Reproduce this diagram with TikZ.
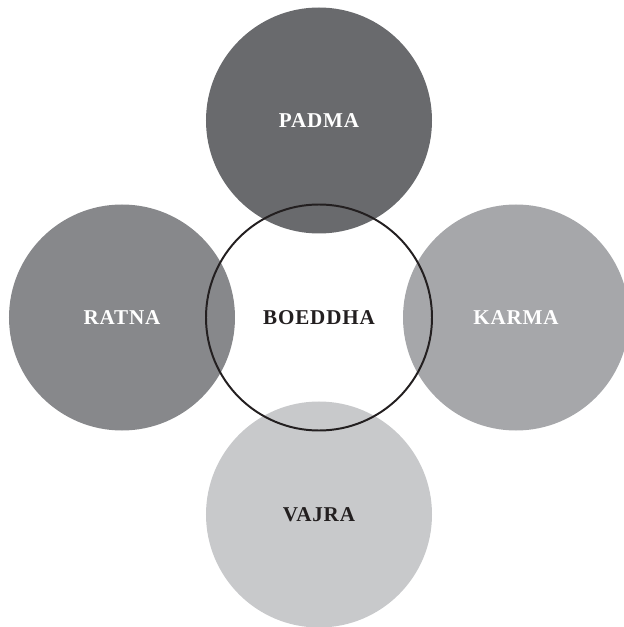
\documentclass[tikz,border=0pt]{standalone}
\usepackage{fontspec}
\setmainfont{Liberation Serif}
\usetikzlibrary{positioning}
\definecolor{padmagray}{RGB}{105, 106, 109}
\definecolor{ratnagray}{RGB}{135, 136, 139}
\definecolor{karmagray}{RGB}{166, 167, 170}
\definecolor{vajragray}{RGB}{200, 201, 203}
\definecolor{inkblack}{RGB}{35, 31, 32}
\newcommand{\famname}[1]{\addfontfeatures{LetterSpace=4}#1}

\begin{document}
\begin{tikzpicture}[
        node distance=-0.725cm,
        hub/.style={circle, minimum size=5.65cm, outer sep=0pt, text=inkblack, font=\fontsize{15}{18}\selectfont\bfseries},
        petal/.style={circle, minimum size=5.65cm, outer sep=0pt, text=white, font=\fontsize{15}{18}\selectfont\bfseries},
        ring/.style={draw=inkblack, line width=1.4pt}
      ]
        \useasboundingbox (-7.975,-7.7375) rectangle (7.6,7.9375);

        \node[hub] (boeddha) at (0,0) {\famname{BOEDDHA}};
        \node[petal, fill=padmagray, above=of boeddha] (padma) {\famname{PADMA}};
        \node[petal, fill=ratnagray, left=of boeddha] (ratna) {\famname{RATNA}};
        \node[petal, fill=karmagray, right=of boeddha] (karma) {\famname{KARMA}};
        \node[petal, fill=vajragray, text=inkblack, below=of boeddha] (vajra) {\famname{VAJRA}};

        % outline of the middle circle lies over the others
        \draw[ring] (boeddha) circle[radius=2.825cm];
      \end{tikzpicture}
\end{document}
